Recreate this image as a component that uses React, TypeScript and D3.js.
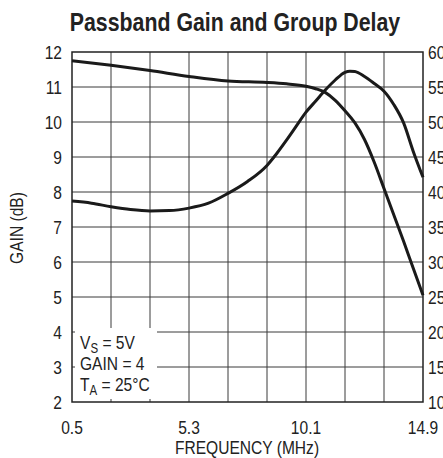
import React from "react";
import * as d3 from "d3";

const title = "Passband Gain and Group Delay";
const xTicks = [0.5, 5.3, 10.1, 14.9];
const xGrid = [0.5, 2.1, 3.7, 5.3, 6.9, 8.5, 10.1, 11.7, 13.3, 14.9];
const gainTicks = [2, 3, 4, 5, 6, 7, 8, 9, 10, 11, 12];
const delayTicks = [10, 15, 20, 25, 30, 35, 40, 45, 50, 55, 60];

const gainFreq = [0.5, 2.1, 3.7, 5.3, 6.9, 8.5, 9.3, 10.1, 10.5, 10.9, 11.3, 11.7, 12.1, 12.5, 12.9, 13.3, 13.7, 14.1, 14.5, 14.9];
const gainDb = [11.75, 11.62, 11.47, 11.3, 11.17, 11.13, 11.09, 11.02, 10.95, 10.84, 10.62, 10.32, 9.98, 9.5, 8.85, 8.1, 7.35, 6.6, 5.82, 5.05];

const delayFreq = [0.5, 1.3, 2.1, 2.9, 3.7, 4.5, 5.3, 6.1, 6.9, 7.7, 8.5, 8.9, 9.3, 9.7, 10.1, 10.5, 10.9, 11.3, 11.7, 11.9, 12.1, 12.5, 12.9, 13.3, 13.7, 14.1, 14.5, 14.9];
const delayNs = [38.7, 38.4, 37.9, 37.5, 37.3, 37.35, 37.7, 38.4, 39.8, 41.5, 43.8, 45.5, 47.4, 49.4, 51.4, 53.0, 54.6, 56.0, 57.1, 57.25, 57.2, 56.5, 55.5, 54.4, 52.5, 49.9, 45.8, 42.1];

const notes = [
  { main: "V", sub: "S", rest: " = 5V" },
  { main: "GAIN = 4", sub: "", rest: "" },
  { main: "T", sub: "A", rest: " = 25°C" },
];

const FONT = "'Liberation Sans', Arial, sans-serif";
const SX = 0.82;

function NText(props: { x: number; y: number; anchor?: string; size: number; bold?: boolean; rotate?: number; children: React.ReactNode }) {
  const { x, y, anchor = "start", size, bold, rotate = 0, children } = props;
  return (
    <text
      transform={`translate(${x},${y}) rotate(${rotate}) scale(${SX},1)`}
      textAnchor={anchor}
      fontSize={size}
      fontWeight={bold ? "bold" : "normal"}
      fill="#222"
    >
      {children}
    </text>
  );
}

export default function App() {
  const W = 443, H = 458;
  const L = 72, R = 423, T = 52, B = 402;
  const x = d3.scaleLinear().domain([0.5, 14.9]).range([L, R]);
  const yG = d3.scaleLinear().domain([2, 12]).range([B, T]);
  const yD = d3.scaleLinear().domain([10, 60]).range([B, T]);

  const gainLine = d3.line<number>().x((_, i) => x(gainFreq[i])).y((d) => yG(d)).curve(d3.curveMonotoneX);
  const delayLine = d3.line<number>().x((_, i) => x(delayFreq[i])).y((d) => yD(d)).curve(d3.curveMonotoneX);

  const boxR = 157, boxT = 328;
  const gridColor = "#3a3a3a";

  return (
    <div style={{ position: "absolute", left: 0, top: 0 }}>
      <svg width={W} height={H} style={{ display: "block", background: "#fff" }} fontFamily={FONT}>
        <NText x={235} y={31} anchor="middle" size={26} bold>{title}</NText>

        {/* grid */}
        {xGrid.slice(1, -1).map((f) => (
          <line key={"vx" + f} x1={x(f)} x2={x(f)} y1={T} y2={B} stroke={gridColor} strokeWidth={1} />
        ))}
        {gainTicks.slice(1, -1).map((g) => (
          <line key={"hy" + g} x1={L} x2={R} y1={yG(g)} y2={yG(g)} stroke={gridColor} strokeWidth={1} />
        ))}

        {/* legend box */}
        <rect x={L} y={boxT} width={boxR - L} height={B - boxT} fill="#fff" />
        {gainTicks.filter((g) => yG(g) > boxT && g > 2).map((g) => (
          <line key={"ts" + g} x1={L} x2={L + 3} y1={yG(g)} y2={yG(g)} stroke={gridColor} strokeWidth={1} />
        ))}
        {xGrid.filter((f) => x(f) > L && x(f) < boxR).map((f) => (
          <line key={"tb" + f} x1={x(f)} x2={x(f)} y1={B} y2={B - 3} stroke={gridColor} strokeWidth={1} />
        ))}

        {/* frame */}
        <rect x={L} y={T} width={R - L} height={B - T} fill="none" stroke="#222" strokeWidth={1.5} />

        {/* curves */}
        <path d={gainLine(gainDb) || ""} fill="none" stroke="#1a1a1a" strokeWidth={3} strokeLinejoin="round" />
        <path d={delayLine(delayNs) || ""} fill="none" stroke="#1a1a1a" strokeWidth={3} strokeLinejoin="round" />

        {/* ticks */}
        {gainTicks.map((g) => (
          <NText key={"lg" + g} x={L - 10} y={yG(g) + 7} anchor="end" size={19}>{g}</NText>
        ))}
        {delayTicks.map((d) => (
          <NText key={"rd" + d} x={R + 5} y={yD(d) + 7} size={19}>{d}</NText>
        ))}
        {xTicks.map((f) => (
          <NText key={"xt" + f} x={x(f)} y={434} anchor="middle" size={19}>{f.toFixed(1)}</NText>
        ))}

        <NText x={247} y={454} anchor="middle" size={19}>FREQUENCY (MHz)</NText>
        <NText x={23} y={228} anchor="middle" size={19} rotate={-90}>GAIN (dB)</NText>

        {/* notes */}
        {notes.map((n, i) => (
          <NText key={"n" + i} x={80} y={349 + i * 21} size={19}>
            {n.main}
            {n.sub ? <tspan fontSize={14} dy={4}>{n.sub}</tspan> : null}
            {n.rest ? <tspan dy={n.sub ? -4 : 0}>{n.rest}</tspan> : null}
          </NText>
        ))}
      </svg>
    </div>
  );
}
